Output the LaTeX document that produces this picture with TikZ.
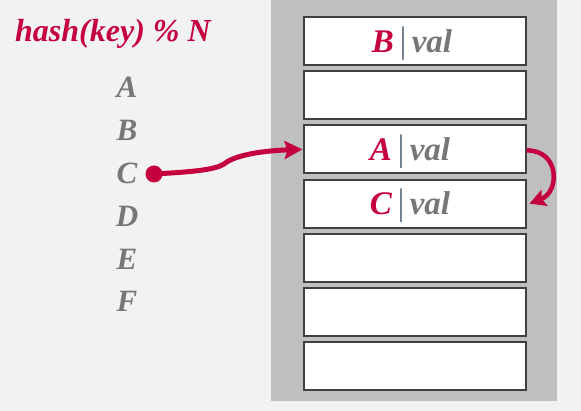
\documentclass[tikz,border=0pt]{standalone}
\usepackage{fontspec}
\setmainfont{Liberation Serif}
\usetikzlibrary{arrows.meta}
\definecolor{crim}{HTML}{C5003E}
\definecolor{bgc}{HTML}{F2F2F2}
\definecolor{panelc}{HTML}{BFBFBF}
\definecolor{boxc}{HTML}{404040}
\definecolor{txtgray}{HTML}{777777}
\definecolor{barc}{HTML}{6B7B8C}
\newcommand{\kv}[1]{{\color{crim}#1}\hspace{5.5pt}{\color{barc}\mdseries\upshape\fontsize{37}{40}\selectfont|}\hspace{5pt}{\color{txtgray}val}}
\begin{document}
\begin{tikzpicture}[x=1pt,y=-1pt,
  slot/.style={draw=boxc, line width=2pt, fill=white, minimum width=222pt, minimum height=48pt, inner sep=0pt},
  slottext/.style={anchor=base, inner sep=0pt, font=\fontsize{33}{36}\selectfont\bfseries\itshape},
  keytext/.style={anchor=base, inner sep=0pt, text=txtgray, font=\fontsize{31}{34}\selectfont\bfseries\itshape},
  arr/.style={draw=crim, -{Stealth[length=18pt,width=18pt,inset=3pt]}}]
\useasboundingbox (0,0) rectangle (581,411);
\fill[bgc] (0,0) rectangle (581,411);
\fill[panelc] (271,0) rectangle (557,401);
% heading
\node[anchor=base west, inner sep=0pt, text=crim, font=\fontsize{32}{36}\selectfont\bfseries\itshape] (head) at (15,42) {hash(key) \% N};
% keys
\node[keytext] (kA) at (127,98) {A};
\node[keytext] (kB) at (127,140.8) {B};
\node[keytext] (kC) at (127,183.6) {C};
\node[keytext] (kD) at (127,226.4) {D};
\node[keytext] (kE) at (127,269.2) {E};
\node[keytext] (kF) at (127,312) {F};
% slots
\node[slot] (s1) at (414.5,41) {};
\node[slot] (s2) at (414.5,95.2) {};
\node[slot] (s3) at (414.5,149.4) {};
\node[slot] (s4) at (414.5,203.6) {};
\node[slot] (s5) at (414.5,257.8) {};
\node[slot] (s6) at (414.5,312) {};
\node[slot] (s7) at (414.5,366.2) {};
\node[slottext] (t1) at (412,52.5) {\kv{B}};
\node[slottext] (t3) at (410,160.5) {\kv{A}};
\node[slottext] (t4) at (410,214.8) {\kv{C}};
% dot and arrows
\node[circle, fill=crim, minimum size=17pt, inner sep=0pt] (dot) at (154,174) {};
\draw[arr, line width=5pt] (dot.center) .. controls (190,172) and (215,170) .. (224,164) .. controls (232,157) and (255,151) .. (s3.west);
\draw[arr, line width=4.5pt, -{Stealth[length=16pt,width=17pt,inset=3pt]}] ([yshift=-1pt]s3.east) .. controls (560,150) and (560,192) .. ([xshift=3pt]s4.east);
\end{tikzpicture}
\end{document}
